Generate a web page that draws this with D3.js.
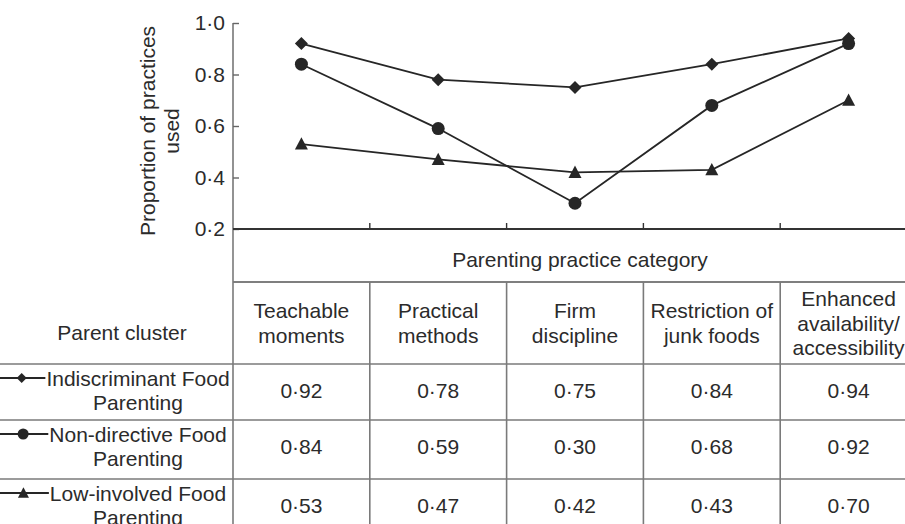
<!DOCTYPE html>
<html>
<head>
<meta charset="utf-8">
<script src="https://cdn.jsdelivr.net/npm/d3@7"></script>
<style>
  body { margin: 0; background: #fff; }
  svg { display: block; font-family: "Liberation Sans", Arial, sans-serif; }
</style>
</head>
<body>
<svg id="chart" width="905" height="524"></svg>
<script>
// categories on the x axis (header lines of the table)
var categories = ["Teachable moments", "Practical methods", "Firm discipline", "Restriction of junk foods", "Enhanced availability/accessibility"];
var categoryLines = [["Teachable", "moments"], ["Practical", "methods"], ["Firm", "discipline"], ["Restriction of", "junk foods"], ["Enhanced", "availability/", "accessibility"]];

// parent clusters (rows)
var clusterNames = ["Indiscriminant Food Parenting", "Non-directive Food Parenting", "Low-involved Food Parenting"];
var clusterLines = [["Indiscriminant Food", "Parenting"], ["Non-directive Food", "Parenting"], ["Low-involved Food", "Parenting"]];
var clusterMarkers = ["diamond", "circle", "triangle"];

// values
var indiscriminant = [0.92, 0.78, 0.75, 0.84, 0.94];
var nonDirective = [0.84, 0.59, 0.30, 0.68, 0.92];
var lowInvolved = [0.53, 0.47, 0.42, 0.43, 0.70];
var series = [indiscriminant, nonDirective, lowInvolved];

var yTicks = [0.2, 0.4, 0.6, 0.8, 1.0];

var svg = d3.select("#chart");
var W = 905, H = 524;
var axisX = 233, axisTop = 23, axisBottom = 229;
var bandW = 136.8;

var x = d3.scaleBand().domain(categories).range([axisX, axisX + bandW * categories.length]);
var y = d3.scaleLinear().domain([0.2, 1.0]).range([axisBottom, axisTop]);
var fmt = function (v) { return d3.format(".1f")(v).replace(".", "\u00b7"); };
var fmt2 = function (v) { return d3.format(".2f")(v).replace(".", "\u00b7"); };

var textCol = "#2b2b2b", lineCol = "#262626", gridCol = "#7a7a7a";
var fs = 21;

// ---- table grid ----
var headTop = 282, headBottom = 364;
var rowEdges = [364, 420, 479, 536];
var grid = svg.append("g").attr("id", "table_grid")
    .attr("stroke", gridCol).attr("stroke-width", 1.6);
grid.append("line").attr("x1", axisX).attr("x2", W).attr("y1", headTop).attr("y2", headTop)
    .attr("stroke", "#555");
rowEdges.slice(0, 3).forEach(function (ry) {
    grid.append("line").attr("x1", 0).attr("x2", W).attr("y1", ry).attr("y2", ry);
});
grid.append("line").attr("x1", axisX).attr("x2", axisX).attr("y1", axisBottom).attr("y2", H);
categories.slice(1).forEach(function (c) {
    grid.append("line").attr("x1", x(c)).attr("x2", x(c)).attr("y1", headTop).attr("y2", H);
});

// ---- axes ----
var yAxis = svg.append("g").attr("transform", "translate(" + axisX + ",0)")
    .call(d3.axisRight(y).tickValues(yTicks).tickSize(6).tickFormat(""));
yAxis.select(".domain").attr("d", "M0," + axisTop + "V" + axisBottom).attr("stroke", "#777").attr("stroke-width", 1.6);
yAxis.selectAll(".tick line").attr("stroke", "#666").attr("stroke-width", 1.4);
svg.append("g").selectAll("text").data(yTicks).enter().append("text")
    .attr("x", axisX - 8).attr("y", function (d) { return y(d); })
    .attr("dy", "0.35em").attr("text-anchor", "end")
    .attr("font-size", fs).attr("fill", textCol)
    .text(fmt);

var xAxis = svg.append("g").attr("transform", "translate(0," + axisBottom + ")");
xAxis.append("line").attr("x1", axisX).attr("x2", W).attr("y1", 0).attr("y2", 0)
    .attr("stroke", "#333").attr("stroke-width", 1.8);
xAxis.selectAll(".xt").data(categories.slice(1)).enter().append("line")
    .attr("class", "xt")
    .attr("x1", function (d) { return x(d); }).attr("x2", function (d) { return x(d); })
    .attr("y1", 0).attr("y2", -6).attr("stroke", "#333").attr("stroke-width", 1.4);

// y title
var yt = svg.append("text").attr("transform", "rotate(-90)")
    .attr("text-anchor", "middle").attr("font-size", fs).attr("fill", textCol);
yt.append("tspan").attr("x", -131).attr("y", 155).text("Proportion of practices");
yt.append("tspan").attr("x", -131).attr("y", 179).text("used");

svg.append("text").attr("x", 580).attr("y", 267).attr("text-anchor", "middle")
    .attr("font-size", fs).attr("fill", textCol).text("Parenting practice category");

// ---- markers ----
function drawMarker(g, type, cx, cy, s) {
    if (type === "circle") {
        g.append("circle").attr("cx", cx).attr("cy", cy).attr("r", s * 0.5).attr("fill", lineCol);
    } else if (type === "diamond") {
        var h = s * 0.5;
        g.append("path").attr("d", "M" + cx + "," + (cy - h) + "L" + (cx + h) + "," + cy + "L" + cx + "," + (cy + h) + "L" + (cx - h) + "," + cy + "Z").attr("fill", lineCol);
    } else {
        var t = s * 0.5;
        g.append("path").attr("d", "M" + cx + "," + (cy - t * 1.05) + "L" + (cx + t) + "," + (cy + t * 0.85) + "L" + (cx - t) + "," + (cy + t * 0.85) + "Z").attr("fill", lineCol);
    }
}

// ---- lines ----
var line = d3.line()
    .x(function (d, i) { return x(categories[i]) + x.bandwidth() / 2; })
    .y(function (d) { return y(d); });
var lines = svg.append("g").attr("id", "series");
series.forEach(function (vals, si) {
    lines.append("path").attr("d", line(vals)).attr("fill", "none")
        .attr("stroke", lineCol).attr("stroke-width", 1.8);
    vals.forEach(function (v, i) {
        drawMarker(lines, clusterMarkers[si], x(categories[i]) + x.bandwidth() / 2, y(v), 13);
    });
});

// ---- table text ----
categoryLines.forEach(function (ls, i) {
    var cx = x(categories[i]) + x.bandwidth() / 2;
    var t = svg.append("text").attr("text-anchor", "middle").attr("font-size", fs).attr("fill", textCol);
    ls.forEach(function (l, k) {
        t.append("tspan").attr("x", cx).attr("y", 330.5 + (k - (ls.length - 1) / 2) * 24.5).text(l);
    });
});
svg.append("text").attr("x", 122).attr("y", 340).attr("text-anchor", "middle")
    .attr("font-size", fs).attr("fill", textCol).text("Parent cluster");

clusterNames.forEach(function (name, ri) {
    var top = rowEdges[ri];
    var labX = 138;
    var t = svg.append("text").attr("text-anchor", "middle").attr("font-size", fs).attr("fill", textCol);
    var first = t.append("tspan").attr("x", labX).attr("y", top + 22).text(clusterLines[ri][0]);
    t.append("tspan").attr("x", labX).attr("y", top + 46).text(clusterLines[ri][1]);
    var tw = first.node().getComputedTextLength();
    var lx2 = labX - tw / 2 - 1;
    var my = top + 14;
    svg.append("line").attr("x1", 0).attr("x2", lx2).attr("y1", my).attr("y2", my)
        .attr("stroke", lineCol).attr("stroke-width", 1.8);
    drawMarker(svg, clusterMarkers[ri], lx2 / 2 - 1, my, ri === 0 ? 10 : 11);

    series[ri].forEach(function (v, i) {
        svg.append("text").attr("x", x(categories[i]) + x.bandwidth() / 2).attr("y", top + 34)
            .attr("text-anchor", "middle").attr("font-size", fs).attr("fill", textCol)
            .text(fmt2(v));
    });
});
</script>
</body>
</html>
